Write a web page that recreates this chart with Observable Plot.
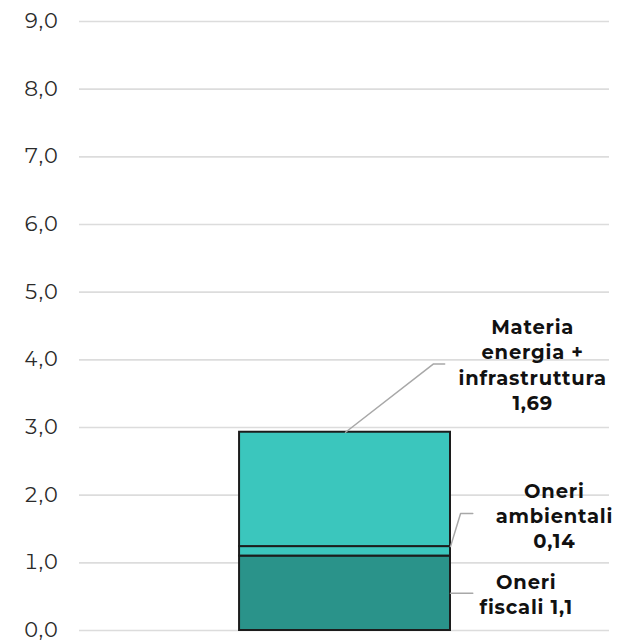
<!DOCTYPE html>
<html>
<head>
<meta charset="utf-8">
<script src="https://cdn.jsdelivr.net/npm/d3@7"></script>
<script src="https://cdn.jsdelivr.net/npm/@observablehq/plot@0.6"></script>
<style>
  body { margin: 0; background: #fff; }
  #chart svg { display: block; }
  .lbl text { letter-spacing: 0.8px; }
  .yax text { letter-spacing: 0.5px; }
</style>
</head>
<body>
<div id="chart"></div>
<script>
const categories = ["Oneri fiscali", "Oneri ambientali", "Materia energia + infrastruttura"];
const values = [1.1, 0.14, 1.69];
const colors = ["#2a938a", "#3bc6bd", "#3bc6bd"];
const labels = ["Oneri\nfiscali 1,1", "Oneri\nambientali\n0,14", "Materia\nenergia +\ninfrastruttura\n1,69"];
const yTicks = [0, 1, 2, 3, 4, 5, 6, 7, 8, 9];

// stacked segments
let acc = 0;
const segs = categories.map((c, i) => {
  const s = { cat: c, y1: acc, y2: acc + values[i], color: colors[i], label: labels[i] };
  acc += values[i];
  return s;
});
const total = acc;
const [fisc, amb, mat] = segs;

// leader lines (annotation geometry on the hidden 0..1 x scale)
const leaders = [
  { pts: [[0.70, (fisc.y1 + fisc.y2) / 2], [0.742, (fisc.y1 + fisc.y2) / 2]] },
  { pts: [[0.70, amb.y2], [0.719, amb.y2 + 0.49], [0.742, amb.y2 + 0.49]] },
  { pts: [[0.502, total], [0.668, total + 1.01], [0.689, total + 1.01]] }
];
const leaderRows = leaders.flatMap((l, i) => l.pts.map(p => ({ id: i, x: p[0], y: p[1] })));

const textRows = [
  { x: 0.843, y: (fisc.y1 + fisc.y2) / 2, label: fisc.label },
  { x: 0.896, y: amb.y2 + 0.47, label: amb.label },
  { x: 0.855, y: total + 1.01, label: mat.label }
];

const fmt = d => d.toFixed(1).replace(".", ",");

const chart = Plot.plot({
  width: 618,
  height: 641,
  marginLeft: 79,
  marginRight: 9,
  marginTop: 21,
  marginBottom: 11,
  style: { fontFamily: "Montserrat, 'Open Sans', sans-serif", background: "#fff" },
  x: { domain: [0, 1], axis: null },
  y: { domain: [0, 9], ticks: yTicks, tickFormat: fmt, tickSize: 0, tickPadding: 22, label: null, axis: null },
  marks: [
    Plot.ruleY(yTicks, { stroke: "#dcdcdc", strokeWidth: 1.6 }),
    Plot.axisY({ ticks: yTicks, tickFormat: fmt, tickSize: 0, tickPadding: 21, fontSize: 20.5, fill: "#2b2b2b", label: null, className: "yax" }),
    Plot.rect(segs, { x1: 0.302, x2: 0.70, y1: "y1", y2: "y2", fill: "color", stroke: "#1c1c1c", strokeWidth: 2 }),
    Plot.line(leaderRows, { x: "x", y: "y", z: "id", stroke: "#a8a8a8", strokeWidth: 1.5 }),
    Plot.text(textRows, { x: "x", y: "y", text: "label", fontSize: 19.5, fontWeight: "bold", fill: "#111", textAnchor: "middle", lineAnchor: "middle", lineHeight: 1.3, className: "lbl" })
  ]
});
document.getElementById("chart").appendChild(chart);
</script>
</body>
</html>
